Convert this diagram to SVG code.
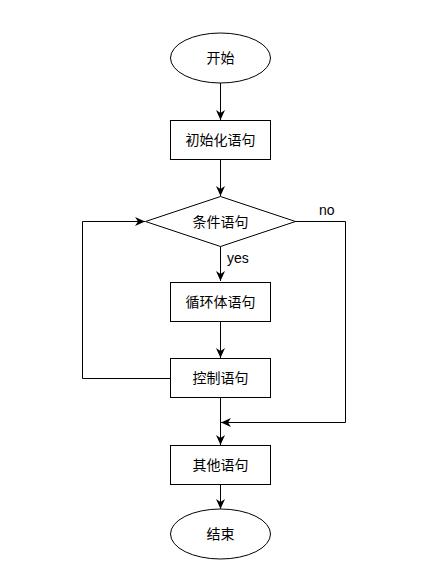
<svg xmlns="http://www.w3.org/2000/svg" width="424" height="575" viewBox="0 0 424 575">
<style>
.n{fill:#fff;stroke:#000;stroke-width:1}
.t{font-family:"Liberation Sans","Noto Sans CJK SC",sans-serif;font-size:14px;fill:#000;text-anchor:middle;dominant-baseline:central}
.e{fill:none;stroke:#000;stroke-width:1}
.l{font-family:"Liberation Sans","Noto Sans CJK SC",sans-serif;font-size:14px;fill:#000;dominant-baseline:central}
</style>
<defs>
<marker id="a" markerUnits="userSpaceOnUse" markerWidth="12" markerHeight="10" refX="10" refY="4.5" orient="auto">
<path d="M0,0 L10,4.5 L0,9 L3,4.5 Z" fill="#000"/>
</marker>
</defs>
<rect width="424" height="575" fill="#fff"/>
<g id="edges">
<path class="e" d="M220.5,83 V120" marker-end="url(#a)"/>
<path class="e" d="M220.5,160 V196" marker-end="url(#a)"/>
<path class="e" d="M220.5,246 V281" marker-end="url(#a)"/>
<path class="e" d="M220.5,321 V358" marker-end="url(#a)"/>
<path class="e" d="M220.5,398 V445" marker-end="url(#a)"/>
<path class="e" d="M220.5,485 V509" marker-end="url(#a)"/>
<path class="e" d="M170,378.5 H82.5 V221.5 H145" marker-end="url(#a)"/>
<path class="e" d="M295,221.5 H345.5 V422.5 H221" marker-end="url(#a)"/>
<text class="l" x="319" y="210">no</text>
<text class="l" x="227" y="258">yes</text>
</g>
<g id="start"><ellipse class="n" cx="220.5" cy="58" rx="50" ry="25"/><text class="t" x="220.5" y="58">开始</text></g>
<g id="init"><rect class="n" x="170.5" y="120.5" width="100" height="39"/><text class="t" x="220.5" y="140">初始化语句</text></g>
<g id="cond"><path class="n" d="M220.5,196.5 L295.5,221.5 L220.5,246.5 L145.5,221.5 Z"/><text class="t" x="220.5" y="221.5">条件语句</text></g>
<g id="body"><rect class="n" x="170.5" y="282.5" width="100" height="39"/><text class="t" x="220.5" y="302">循环体语句</text></g>
<g id="ctrl"><rect class="n" x="170.5" y="358.5" width="100" height="39"/><text class="t" x="220.5" y="378">控制语句</text></g>
<g id="other"><rect class="n" x="170.5" y="445.5" width="100" height="39"/><text class="t" x="220.5" y="465">其他语句</text></g>
<g id="end"><ellipse class="n" cx="220.5" cy="534" rx="50" ry="25"/><text class="t" x="220.5" y="534">结束</text></g>
</svg>
